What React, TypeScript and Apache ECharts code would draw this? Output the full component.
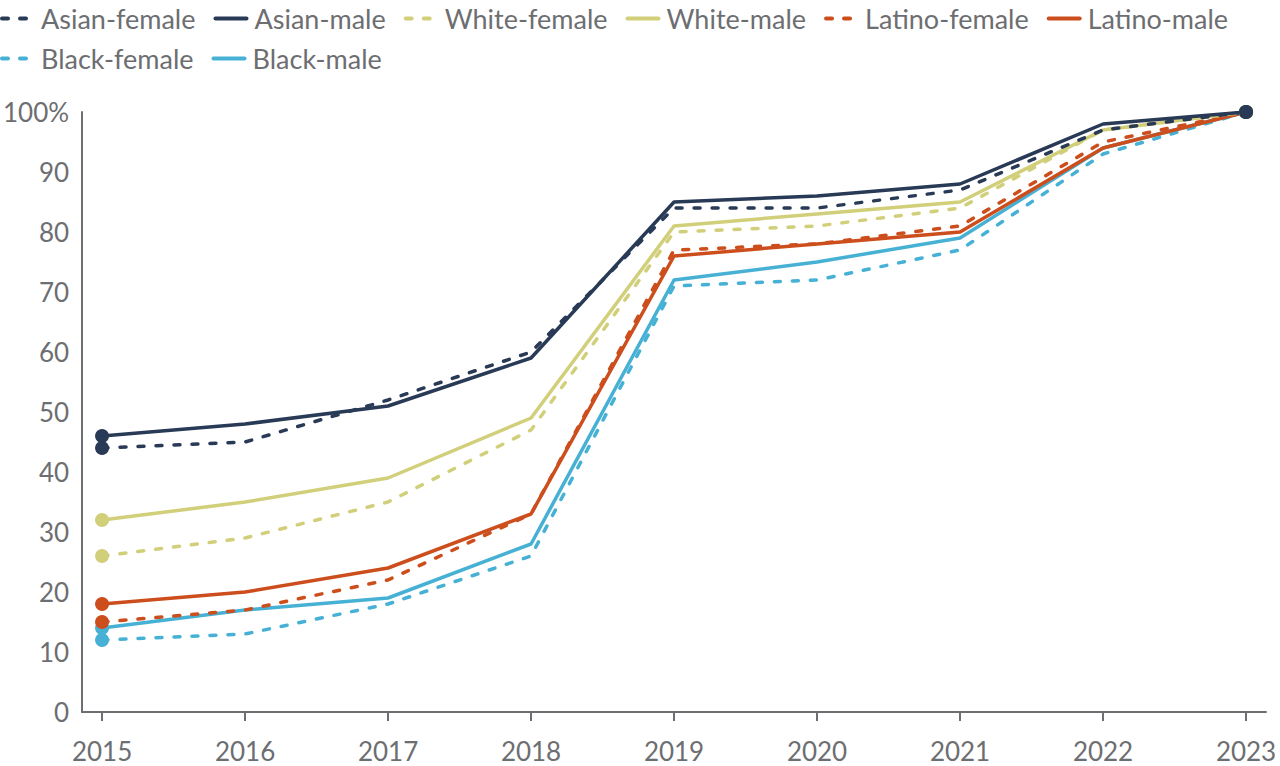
import React, { useEffect, useRef } from "react";
import * as echarts from "echarts";

const years = [2015, 2016, 2017, 2018, 2019, 2020, 2021, 2022, 2023];
const asianFemale = [44, 45, 52, 60, 84, 84, 87, 97, 100];
const asianMale = [46, 48, 51, 59, 85, 86, 88, 98, 100];
const whiteFemale = [26, 29, 35, 47, 80, 81, 84, 97, 100];
const whiteMale = [32, 35, 39, 49, 81, 83, 85, 97, 100];
const latinoFemale = [15, 17, 22, 33, 77, 78, 81, 95, 100];
const latinoMale = [18, 20, 24, 33, 76, 78, 80, 94, 100];
const blackFemale = [12, 13, 18, 26, 71, 72, 77, 93, 100];
const blackMale = [14, 17, 19, 28, 72, 75, 79, 94, 100];

const legendRow1 = [
  "Asian-female",
  "Asian-male",
  "White-female",
  "White-male",
  "Latino-female",
  "Latino-male",
];
const legendRow2 = ["Black-female", "Black-male"];

const NAVY = "#283a56";
const KHAKI = "#d2cf7b";
const ORANGE = "#cd4e1d";
const BLUE = "#46b1d4";
const GRAY = "#6d6e71";
const FONT = "Lato";

// drawn in this order (last on top)
const seriesDefs = [
  { name: "Black-male", values: blackMale, color: BLUE, dashed: false },
  { name: "Black-female", values: blackFemale, color: BLUE, dashed: true },
  { name: "Latino-male", values: latinoMale, color: ORANGE, dashed: false },
  { name: "Latino-female", values: latinoFemale, color: ORANGE, dashed: true },
  { name: "White-male", values: whiteMale, color: KHAKI, dashed: false },
  { name: "White-female", values: whiteFemale, color: KHAKI, dashed: true },
  { name: "Asian-male", values: asianMale, color: NAVY, dashed: false },
  { name: "Asian-female", values: asianFemale, color: NAVY, dashed: true },
];

function legendFor(data: string[], top: number) {
  return {
    data,
    left: 0,
    top,
    padding: 0,
    itemGap: 18,
    itemWidth: 31,
    itemHeight: 14,
    itemStyle: { color: "rgba(0,0,0,0)", borderWidth: 0 },
    lineStyle: { width: 4, cap: "round" },
    selectedMode: false,
    textStyle: {
      color: GRAY,
      fontSize: 27,
      fontFamily: FONT,
      padding: [0, 0, 0, 3],
    },
  };
}

export default function App() {
  const ref = useRef<HTMLDivElement>(null);
  useEffect(() => {
    document.body.style.margin = "0";
    const chart = echarts.init(ref.current!, undefined, { renderer: "svg" });
    const series = seriesDefs.map((s) => ({
      name: s.name,
      type: "line",
      symbol: "circle",
      symbolSize: 14,
      showSymbol: true,
      color: s.color,
      itemStyle: { color: s.color },
      lineStyle: {
        color: s.color,
        width: 3.5,
        type: s.dashed ? [6, 12] : "solid",
        cap: "round",
        join: "round",
      },
      emphasis: { disabled: true },
      data: years.map((y, i) => {
        const endPoint = i === 0 || i === years.length - 1;
        return endPoint
          ? { value: [y, s.values[i]], symbol: "circle", symbolSize: 14 }
          : { value: [y, s.values[i]], symbol: "none" };
      }),
    }));
    chart.setOption({
      animation: false,
      legend: [legendFor(legendRow1, 5), legendFor(legendRow2, 45)],
      grid: { left: 80, right: 14, top: 112, bottom: 54, containLabel: false },
      xAxis: {
        type: "value",
        min: 2015 - 20 / 143.25,
        max: 2023 + 20 / 143.25,
        splitLine: { show: false },
        axisLine: { show: true, lineStyle: { color: GRAY, width: 2 } },
        axisTick: {
          show: true,
          customValues: years,
          length: 9,
          lineStyle: { color: GRAY, width: 2 },
        },
        axisLabel: {
          customValues: years,
          formatter: (v: number) => String(v),
          color: GRAY,
          fontSize: 26,
          fontFamily: FONT,
          margin: 26,
        },
      },
      yAxis: {
        type: "value",
        min: 0,
        max: 100,
        interval: 10,
        splitLine: { show: false },
        axisLine: { show: true, lineStyle: { color: GRAY, width: 2 } },
        axisTick: { show: false },
        axisLabel: {
          formatter: (v: number) => (v === 100 ? "100%" : String(v)),
          color: GRAY,
          fontSize: 26,
          fontFamily: FONT,
          margin: 13,
        },
      },
      series,
    });
    return () => chart.dispose();
  }, []);
  return <div ref={ref} style={{ width: 1280, height: 766 }} />;
}
